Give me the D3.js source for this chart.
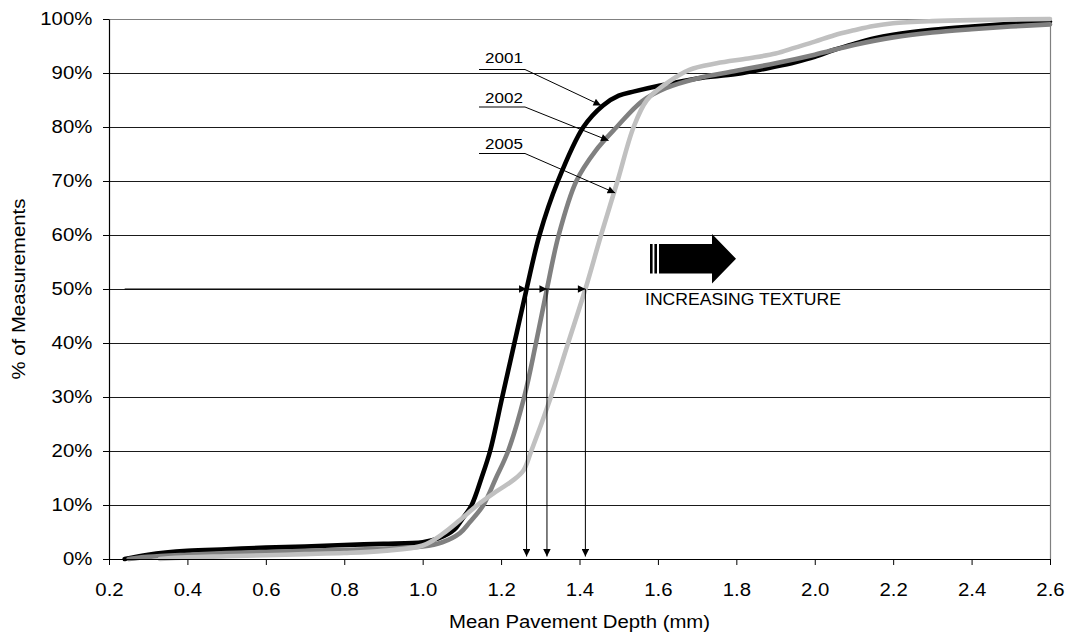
<!DOCTYPE html>
<html>
<head>
<meta charset="utf-8">
<script src="https://cdn.jsdelivr.net/npm/d3@7"></script>
<style>
  html, body { margin: 0; padding: 0; background: #fff; }
  svg { display: block; font-family: "Liberation Sans", Arial, sans-serif; }
</style>
</head>
<body>
<svg id="chart" width="1069" height="639"></svg>
<script>
// Cumulative distribution of mean pavement depth by survey year
const years = ["2001", "2002", "2005"];
const seriesColors = ["#000000", "#808080", "#c0c0c0"];

const depth2001 = [0.24, 0.30, 0.40, 0.50, 0.60, 0.70, 0.80, 0.90, 1.00, 1.04, 1.08, 1.10, 1.125, 1.15, 1.172, 1.203, 1.234, 1.265, 1.298, 1.345, 1.41, 1.46, 1.50, 1.54, 1.60, 1.70, 1.80, 1.90, 1.95, 2.00, 2.05, 2.10, 2.15, 2.20, 2.30, 2.40, 2.50, 2.60];
const pct2001   = [0, 0.8, 1.5, 1.8, 2.1, 2.3, 2.6, 2.8, 3.1, 3.8, 5.4, 7.3, 10, 15, 20, 30, 40, 50, 60, 70, 80, 84, 85.8, 86.6, 87.6, 89.0, 89.8, 91.2, 92.0, 93.0, 94.3, 95.4, 96.4, 97.1, 98.0, 98.6, 99.1, 99.5];

const depth2002 = [0.25, 0.30, 0.40, 0.50, 0.60, 0.70, 0.80, 0.90, 1.00, 1.05, 1.095, 1.12, 1.155, 1.187, 1.218, 1.259, 1.289, 1.317, 1.347, 1.392, 1.44, 1.495, 1.56, 1.62, 1.70, 1.80, 1.90, 2.00, 2.10, 2.20, 2.30, 2.40, 2.50, 2.60];
const pct2002   = [0, 0.4, 0.8, 1.1, 1.3, 1.5, 1.7, 1.9, 2.3, 3.1, 4.8, 6.8, 10, 15, 20, 30, 40, 50, 60, 70, 75.5, 80, 84.8, 87.2, 89.0, 90.4, 91.8, 93.4, 95.2, 96.6, 97.5, 98.1, 98.6, 99.0];

const depth2005 = [0.33, 0.40, 0.50, 0.60, 0.70, 0.80, 0.90, 1.00, 1.05, 1.095, 1.14, 1.19, 1.231, 1.257, 1.277, 1.327, 1.371, 1.415, 1.455, 1.497, 1.538, 1.572, 1.62, 1.68, 1.75, 1.83, 1.90, 1.95, 2.00, 2.05, 2.10, 2.15, 2.20, 2.30, 2.40, 2.60];
const pct2005   = [0, 0.3, 0.5, 0.7, 0.9, 1.1, 1.5, 2.5, 4.6, 7.2, 10, 12.6, 14.6, 16.4, 20, 30, 40, 50, 60, 70, 80, 85, 88, 90.6, 91.8, 92.7, 93.6, 94.7, 95.8, 97.0, 97.9, 98.7, 99.2, 99.6, 99.8, 100];

// Median depth (50% of measurements) for each year
const medianDepths = [1.265, 1.317, 1.415];
const medianLevel = 50;
const medianLineStart = 0.24;

// Where each year label's leader arrow lands on its curve
const labelTargetDepth = [1.455, 1.474, 1.491];
const labelTargetPct = [84, 77.5, 67.8];

const xTicks = [0.2, 0.4, 0.6, 0.8, 1.0, 1.2, 1.4, 1.6, 1.8, 2.0, 2.2, 2.4, 2.6];
const yTicks = [0, 10, 20, 30, 40, 50, 60, 70, 80, 90, 100];

const xTitle = "Mean Pavement Depth (mm)";
const yTitle = "% of Measurements";
const noteText = "INCREASING TEXTURE";

// ---- layout ----
const W = 1069, H = 639;
const plot = { left: 109, right: 1050, top: 19, bottom: 559 };
const SX = 1.1; // horizontal stretch for the wide typeface look

const svg = d3.select("#chart");
svg.append("rect").attr("width", W).attr("height", H).attr("fill", "#fff");

const x = d3.scaleLinear().domain([0.2, 2.6]).range([plot.left, plot.right]);
const y = d3.scaleLinear().domain([0, 100]).range([plot.bottom, plot.top]);

const defs = svg.append("defs");
defs.append("marker")
  .attr("id", "arrowHead")
  .attr("viewBox", "0 0 10 10")
  .attr("refX", 10).attr("refY", 5)
  .attr("markerUnits", "userSpaceOnUse")
  .attr("markerWidth", 8.5).attr("markerHeight", 7.5)
  .attr("orient", "auto")
  .append("path").attr("d", "M0,0 L10,5 L0,10 Z").attr("fill", "#000");

// Horizontal gridlines
svg.append("g")
  .selectAll("line")
  .data(yTicks.filter(d => d > 0 && d < 100))
  .join("line")
  .attr("x1", plot.left).attr("x2", plot.right)
  .attr("y1", d => Math.round(y(d)) + 0.5).attr("y2", d => Math.round(y(d)) + 0.5)
  .attr("stroke", "#1a1a1a").attr("stroke-width", 1);

// Plot frame: top and right edges in grey
svg.append("path")
  .attr("d", `M${plot.left},${plot.top + 0.5} H${plot.right + 0.5} V${plot.bottom}`)
  .attr("fill", "none").attr("stroke", "#808080").attr("stroke-width", 1.2);

// Curves
const line = d3.line()
  .x(d => x(d[0])).y(d => y(d[1]))
  .curve(d3.curveCatmullRom.alpha(0.5));

const seriesData = [
  d3.zip(depth2001, pct2001),
  d3.zip(depth2002, pct2002),
  d3.zip(depth2005, pct2005)
];

svg.append("g")
  .selectAll("path")
  .data(seriesData)
  .join("path")
  .attr("d", line)
  .attr("fill", "none")
  .attr("stroke", (d, i) => seriesColors[i])
  .attr("stroke-width", 4.6)
  .attr("stroke-linejoin", "round")
  .attr("stroke-linecap", "round");

// Median guide arrows: horizontal run at 50%, then drop to the axis
const guides = svg.append("g").attr("stroke", "#000").attr("stroke-width", 1).attr("fill", "none");
const hStops = [medianLineStart].concat(medianDepths);
for (let i = 0; i < medianDepths.length; i++) {
  guides.append("line")
    .attr("x1", x(hStops[i])).attr("x2", x(hStops[i + 1]))
    .attr("y1", y(medianLevel)).attr("y2", y(medianLevel))
    .attr("marker-end", "url(#arrowHead)");
}
medianDepths.forEach(m => {
  guides.append("line")
    .attr("x1", x(m)).attr("x2", x(m))
    .attr("y1", y(medianLevel)).attr("y2", y(0) - 2.5)
    .attr("marker-end", "url(#arrowHead)");
});

// Axes
const xAxis = svg.append("g")
  .attr("transform", `translate(0,${plot.bottom})`)
  .call(d3.axisBottom(x).tickValues(xTicks).tickFormat(d3.format(".1f")).tickSize(6).tickSizeOuter(0).tickPadding(18));
const yAxis = svg.append("g")
  .attr("transform", `translate(${plot.left},0)`)
  .call(d3.axisLeft(y).tickValues(yTicks).tickFormat(d => d + "%").tickSize(6).tickSizeOuter(0));

[xAxis, yAxis].forEach(g => {
  g.select(".domain").attr("stroke", "#000").attr("stroke-width", 1.2);
  g.selectAll(".tick line").attr("stroke", "#000");
  g.selectAll(".tick text")
    .attr("font-size", "18.5px")
    .attr("font-family", "'Liberation Sans', Arial, sans-serif")
    .attr("fill", "#000");
});
xAxis.selectAll(".tick text").attr("transform", `scale(${SX},1)`);
yAxis.selectAll(".tick text").attr("x", -16.7 / SX).attr("transform", `scale(${SX},1)`);

// Axis titles
svg.append("text")
  .attr("transform", `translate(${(plot.left + plot.right) / 2},628) scale(${SX},1)`)
  .attr("text-anchor", "middle")
  .attr("font-size", "18.5px")
  .text(xTitle);

svg.append("text")
  .attr("transform", `translate(25,${(plot.top + plot.bottom) / 2}) rotate(-90) scale(${SX},1)`)
  .attr("text-anchor", "middle")
  .attr("font-size", "18.5px")
  .text(yTitle);

// Year labels with underline and leader arrow
const labelBaselines = [63, 103, 148.5];
const labelUnderlines = [69.5, 107, 153.5];
const labelStartX = 485, underlineX0 = 479, underlineX1 = 525;
const labels = svg.append("g");
years.forEach((yr, i) => {
  labels.append("text")
    .attr("transform", `translate(${labelStartX},${labelBaselines[i]}) scale(${SX},1)`)
    .attr("font-size", "15.5px")
    .text(yr);
  labels.append("polyline")
    .attr("points", `${underlineX0},${labelUnderlines[i]} ${underlineX1},${labelUnderlines[i]} ${x(labelTargetDepth[i])},${y(labelTargetPct[i])}`)
    .attr("fill", "none").attr("stroke", "#000").attr("stroke-width", 1)
    .attr("marker-end", "url(#arrowHead)");
});

// Block arrow pointing towards increasing texture
const bx = 650, by = 244, bh = 29.5;
const block = svg.append("g").attr("fill", "#000");
block.append("rect").attr("x", bx).attr("y", by).attr("width", 2.6).attr("height", bh);
block.append("rect").attr("x", bx + 4.4).attr("y", by).attr("width", 2.6).attr("height", bh);
block.append("path")
  .attr("d", `M${bx + 9},${by} H${bx + 62} V${by - 10} L${bx + 86},${by + bh / 2} L${bx + 62},${by + bh + 10} V${by + bh} H${bx + 9} Z`);

svg.append("text")
  .attr("transform", `translate(645,305) scale(${SX},1)`)
  .attr("font-size", "16px")
  .text(noteText);
</script>
</body>
</html>
